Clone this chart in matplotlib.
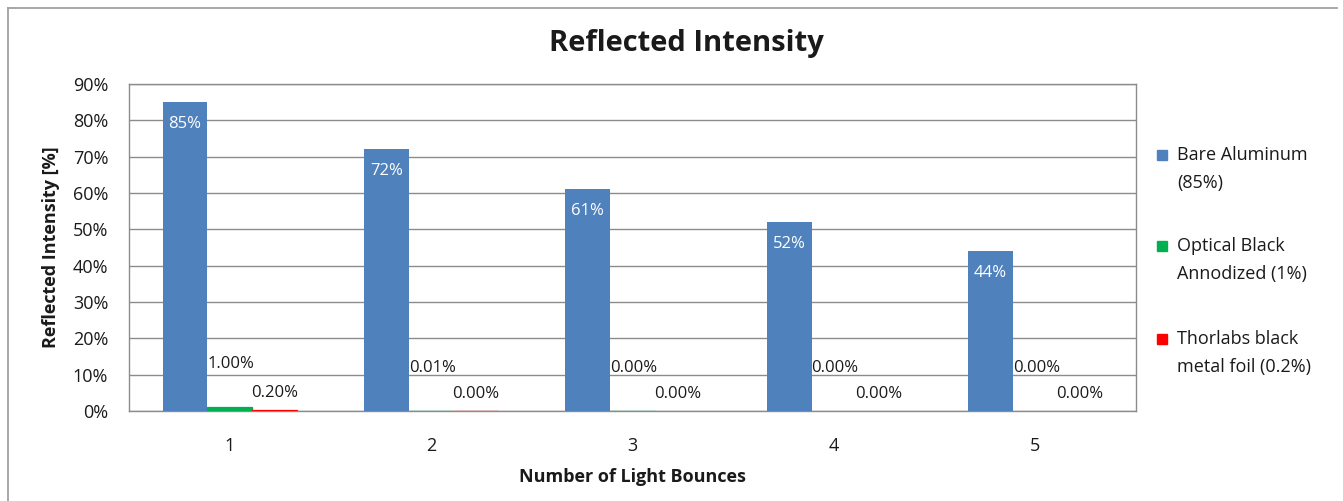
import matplotlib
matplotlib.use("Agg")
import matplotlib.pyplot as plt
from matplotlib.patches import Rectangle
from matplotlib.lines import Line2D
import numpy as np

plt.rcParams['font.family'] = ['Open Sans', 'DejaVu Sans']

# Data
bounces = [1, 2, 3, 4, 5]
bare_aluminum = [85, 72, 61, 52, 44]                      # %
optical_black = [1.0, 0.01, 0.0001, 0.000001, 0.00000001]  # %
thorlabs_foil = [0.2, 0.0004, 0.0000008, 0.0000000016, 0.0000000000032]  # %
series_names = ["Bare Aluminum\n(85%)", "Optical Black\nAnnodized (1%)",
                "Thorlabs black\nmetal foil (0.2%)"]
y_ticks = [0, 10, 20, 30, 40, 50, 60, 70, 80, 90]

colors = ["#4F81BD", "#00B050", "#FF0000"]
grid_c = "#8C8C8C"
text_c = "#1A1A1A"

W, H = 1343, 501
fig = plt.figure(figsize=(W / 100, H / 100), dpi=100)
fig.patch.set_facecolor("white")

# chart-area frame (left and top edges)
fig.add_artist(Line2D([8 / W, 8 / W], [0, 1 - 8 / H], transform=fig.transFigure,
                      color="#A0A0A0", lw=1.3))
fig.add_artist(Line2D([8 / W, 1 - 6 / W], [1 - 8 / H, 1 - 8 / H], transform=fig.transFigure,
                      color="#A0A0A0", lw=1.3))

L, R, T, B = 129, 1136, 84, 411
ax = fig.add_axes([L / W, 1 - B / H, (R - L) / W, (B - T) / H])

x = np.arange(len(bounces))
gap = 1.5
bw = 1.0 / (3 + gap)

all_series = [bare_aluminum, optical_black, thorlabs_foil]
bar_sets = []
for i, (vals, c) in enumerate(zip(all_series, colors)):
    lws = [0.9 if 1e-4 <= v < 2 else 0 for v in vals]
    bars = ax.bar(x + (i - 1) * bw, vals, width=bw, color=c, edgecolor=c,
                  linewidth=lws, zorder=3)
    bar_sets.append(bars)

fs = 13
fs_val = 12

# value labels
for b, v in zip(bar_sets[0], bare_aluminum):
    ax.annotate(f"{v:.0f}%", (b.get_x() + b.get_width() / 2, v),
                xytext=(0, -22), textcoords="offset pixels",
                ha="center", va="center", color="white", fontsize=fs_val, zorder=4)
for b, v in zip(bar_sets[1], optical_black):
    ax.annotate(f"{v:.2f}%", (b.get_x() + b.get_width() / 2, v),
                xytext=(1, 43), textcoords="offset pixels",
                ha="center", va="center", color=text_c, fontsize=fs_val, zorder=4)
for b, v in zip(bar_sets[2], thorlabs_foil):
    ax.annotate(f"{v:.2f}%", (b.get_x() + b.get_width() / 2, v),
                xytext=(0, 17), textcoords="offset pixels",
                ha="center", va="center", color=text_c, fontsize=fs_val, zorder=4)

ax.set_xlim(-0.5, len(bounces) - 0.5)
ax.set_ylim(0, 90)
ax.set_yticks(y_ticks)
ax.set_yticklabels([f"{t}%" for t in y_ticks], fontsize=fs, color=text_c)
ax.set_xticks(x)
ax.set_xticklabels([str(b) for b in bounces], fontsize=fs, color=text_c)
ax.tick_params(axis="y", length=0, pad=15)
ax.tick_params(axis="x", length=0, pad=19)
ax.yaxis.grid(True, color=grid_c, lw=1.0, zorder=0)
for s in ax.spines.values():
    s.set_color(grid_c)
    s.set_linewidth(1.0)

ax.set_xlabel("Number of Light Bounces", fontsize=fs, fontweight="bold",
              color=text_c, labelpad=9)
ax.set_ylabel("Reflected Intensity [%]", fontsize=fs, fontweight="bold",
              color=text_c, labelpad=9)

fig.text(686 / W, 1 - 44 / H, "Reflected Intensity", ha="center", va="center",
         fontsize=21, fontweight="bold", color=text_c)

# legend
leg_y = [155, 246, 339]
for name, c, yy in zip(series_names, colors, leg_y):
    fig.add_artist(Rectangle((1157 / W, 1 - (yy + 5) / H), 10 / W, 10 / H,
                             transform=fig.transFigure, color=c))
    fig.text(1177 / W, 1 - (yy - 9) / H, name, ha="left", va="top",
             fontsize=fs, color=text_c, linespacing=1.68)

fig.savefig("out.png", dpi=100, facecolor="white")
